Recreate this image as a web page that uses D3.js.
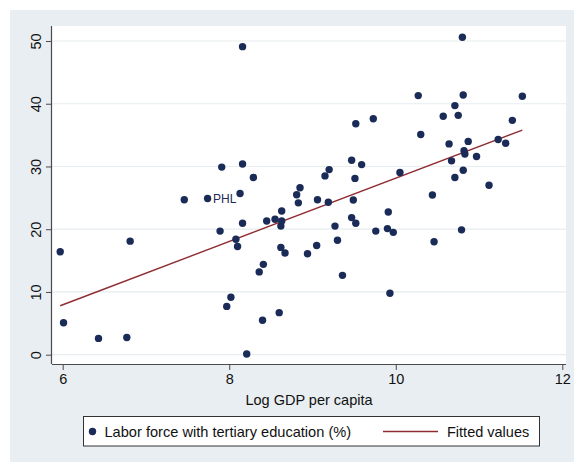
<!DOCTYPE html>
<html>
<head>
<meta charset="utf-8">
<script src="https://cdn.jsdelivr.net/npm/d3@7/dist/d3.min.js"></script>
<style>
  html, body { margin: 0; padding: 0; background: #ffffff; }
  svg { display: block; font-family: "Liberation Sans", Arial, sans-serif; }
</style>
</head>
<body>
<svg id="chart" width="574" height="462"></svg>
<script>
// ---- data ----
const logGdp = [5.97, 6.01, 6.43, 6.77, 6.81, 7.46, 7.74, 7.89, 7.91, 7.97,
  8.02, 8.08, 8.10, 8.13, 8.16, 8.16, 8.16, 8.21, 8.29, 8.36,
  8.41, 8.40, 8.45, 8.55, 8.60, 8.62, 8.62, 8.63, 8.63, 8.67,
  8.81, 8.83, 8.85, 8.94, 9.05, 9.06, 9.15, 9.19, 9.20, 9.27,
  9.30, 9.36, 9.47, 9.47, 9.49, 9.51, 9.52, 9.52, 9.59, 9.73,
  9.76, 9.90, 9.91, 9.93, 9.97, 10.05, 10.27, 10.30, 10.44, 10.46,
  10.57, 10.64, 10.67, 10.71, 10.71, 10.75, 10.79, 10.80, 10.81, 10.81,
  10.82, 10.83, 10.87, 10.97, 11.12, 11.23, 11.32, 11.40, 11.52];
const tertiary = [16.4, 5.1, 2.6, 2.75, 18.1, 24.7, 24.9, 19.7, 29.9, 7.7,
  9.15, 18.4, 17.25, 25.7, 49.1, 30.4, 20.95, 0.1, 28.25, 13.2,
  14.4, 5.5, 21.3, 21.6, 6.7, 17.1, 20.5, 22.9, 21.3, 16.2,
  25.5, 24.2, 26.6, 16.1, 17.4, 24.7, 28.5, 24.3, 29.5, 20.5,
  18.25, 12.65, 31.0, 21.85, 24.65, 28.1, 36.8, 20.95, 30.3, 37.6,
  19.7, 20.1, 22.75, 9.8, 19.5, 29.05, 41.3, 35.1, 25.45, 18.0,
  38.0, 33.6, 30.9, 39.7, 28.25, 38.15, 19.9, 50.6, 29.4, 41.4,
  32.5, 32.0, 34.0, 31.6, 27.0, 34.3, 33.7, 37.35, 41.2];
const labels = ["", "", "", "", "", "", "PHL"]; // only PHL is labelled
const fitX = [5.97, 11.52];
const fitY = [7.8, 35.8];
const xTicks = [6, 8, 10, 12];
const yTicks = [0, 10, 20, 30, 40, 50];
const xTitle = "Log GDP per capita";
const legendLabels = ["Labor force with tertiary education (%)", "Fitted values"];

// ---- layout ----
const W = 574, H = 462;
const svg = d3.select("#chart");
const navy = "#1b2b58", maroon = "#8e2c31";

svg.append("rect").attr("x", 10).attr("y", 10).attr("width", W - 10).attr("height", H - 10)
  .attr("fill", "#e8eef2");

const plot = { left: 52, top: 26, right: 566, bottom: 364 };
svg.append("rect").attr("x", plot.left).attr("y", plot.top)
  .attr("width", plot.right - plot.left).attr("height", plot.bottom - plot.top)
  .attr("fill", "#ffffff");

const x = d3.scaleLinear().domain([6, 12]).range([62.7, 562.3]);
const y = d3.scaleLinear().domain([0, 50]).range([354.7, 41.0]);

// gridlines
svg.append("g").selectAll("line").data(yTicks).join("line")
  .attr("x1", plot.left).attr("x2", plot.right)
  .attr("y1", d => y(d)).attr("y2", d => y(d))
  .attr("stroke", "#e6edf0").attr("stroke-width", 1.2);

// axes
const xAxis = svg.append("g").attr("transform", `translate(0,${plot.bottom})`)
  .call(d3.axisBottom(x).tickValues(xTicks).tickSize(6).tickPadding(4).tickFormat(d3.format("d")));
xAxis.select(".domain").attr("d", `M${plot.left},0.5H${plot.right}`);
const yAxis = svg.append("g").attr("transform", `translate(${plot.left},0)`)
  .call(d3.axisLeft(y).tickValues(yTicks).tickSize(6).tickPadding(4).tickFormat(d3.format("d")));
yAxis.select(".domain").attr("d", `M-0.5,${plot.top}V${plot.bottom}`);
[xAxis, yAxis].forEach(g => {
  g.select(".domain").attr("stroke", "#4a4a4a").attr("stroke-width", 1.2);
  g.selectAll(".tick line").attr("stroke", "#4a4a4a");
  g.selectAll(".tick text").attr("fill", "#111").attr("font-size", 14.5)
    .attr("font-family", "Liberation Sans, Arial, sans-serif");
});
yAxis.selectAll(".tick text")
  .attr("x", null).attr("dy", null)
  .attr("text-anchor", "middle")
  .attr("transform", "translate(-12,0) rotate(-90)")
  .attr("dy", "0.1em");

// axis title
svg.append("text").attr("x", (plot.left + plot.right) / 2).attr("y", 405)
  .attr("text-anchor", "middle").attr("font-size", 14.5).attr("fill", "#111").text(xTitle);

// fitted line
svg.append("path")
  .datum(fitX.map((v, i) => [v, fitY[i]]))
  .attr("d", d3.line().x(d => x(d[0])).y(d => y(d[1])))
  .attr("stroke", maroon).attr("stroke-width", 1.4).attr("fill", "none");

// points
const pts = logGdp.map((v, i) => ({ x: v, y: tertiary[i], label: labels[i] || "" }));
svg.append("g").selectAll("circle").data(pts).join("circle")
  .attr("cx", d => x(d.x)).attr("cy", d => y(d.y)).attr("r", 3.7)
  .attr("fill", navy);
svg.append("g").selectAll("text").data(pts.filter(d => d.label)).join("text")
  .attr("x", d => x(d.x) + 5.5).attr("y", d => y(d.y) + 4.5)
  .attr("font-size", 12).attr("fill", navy).text(d => d.label);

// legend
const lg = svg.append("g");
lg.append("rect").attr("x", 83.5).attr("y", 416.5).attr("width", 456).attr("height", 29.5)
  .attr("fill", "#fff").attr("stroke", "#333").attr("stroke-width", 1);
lg.append("circle").attr("cx", 92.5).attr("cy", 431.5).attr("r", 3.7).attr("fill", navy);
lg.append("text").attr("x", 104.5).attr("y", 436.8).attr("font-size", 14.6).attr("fill", "#111")
  .text(legendLabels[0]);
lg.append("line").attr("x1", 383).attr("x2", 438).attr("y1", 431.5).attr("y2", 431.5)
  .attr("stroke", maroon).attr("stroke-width", 1.4);
lg.append("text").attr("x", 447).attr("y", 436.8).attr("font-size", 14.5).attr("fill", "#111")
  .text(legendLabels[1]);
</script>
</body>
</html>
